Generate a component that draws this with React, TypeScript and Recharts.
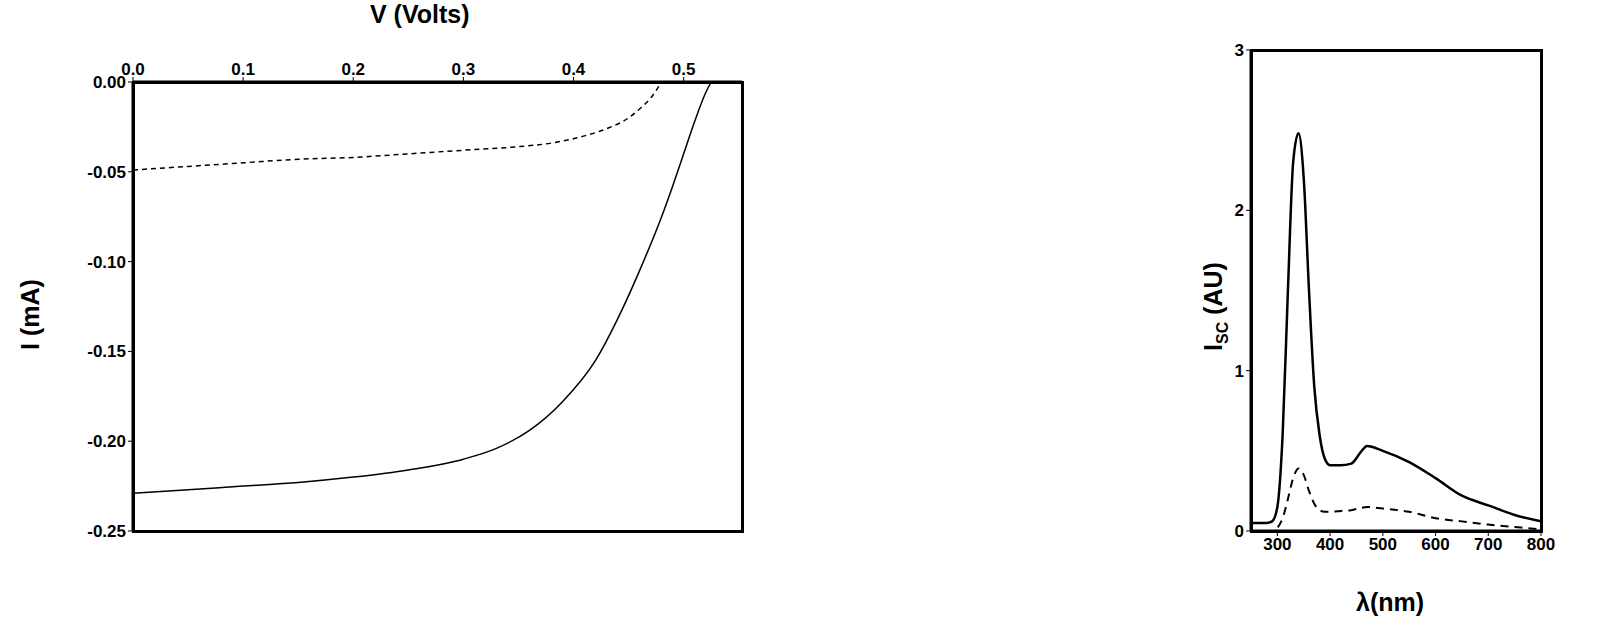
import { LineChart, Line, XAxis, YAxis } from "recharts";

const IV_LIGHT_V = [0, 0.05, 0.1, 0.15, 0.2, 0.25, 0.3, 0.33, 0.36, 0.39, 0.42, 0.44, 0.46, 0.48, 0.49, 0.5, 0.51, 0.52, 0.525];
const IV_LIGHT_I = [-0.229, -0.227, -0.225, -0.223, -0.22, -0.216, -0.21, -0.204, -0.194, -0.178, -0.155, -0.132, -0.105, -0.075, -0.058, -0.04, -0.022, -0.006, 0];
const IV_DARK_V = [0, 0.05, 0.1, 0.15, 0.2, 0.25, 0.3, 0.35, 0.38, 0.41, 0.43, 0.45, 0.46, 0.47, 0.48];
const IV_DARK_I = [-0.049, -0.047, -0.045, -0.043, -0.042, -0.04, -0.038, -0.036, -0.034, -0.03, -0.026, -0.02, -0.015, -0.009, 0];

const WL = [250, 280, 290, 300, 310, 320, 330, 340, 350, 360, 370, 380, 390, 400, 420, 440, 460, 470, 500, 550, 600, 650, 700, 750, 800];
const ISC_SOLID = [0.05, 0.05, 0.06, 0.15, 0.6, 1.5, 2.3, 2.48, 2.2, 1.5, 0.9, 0.6, 0.45, 0.41, 0.41, 0.42, 0.5, 0.53, 0.5, 0.43, 0.33, 0.22, 0.16, 0.1, 0.06];
const ISC_DASH = [0, 0, 0, 0.02, 0.08, 0.2, 0.33, 0.39, 0.35, 0.25, 0.17, 0.13, 0.12, 0.12, 0.125, 0.13, 0.145, 0.15, 0.14, 0.12, 0.08, 0.06, 0.04, 0.025, 0.01];

const V_TICKS = [0, 0.1, 0.2, 0.3, 0.4, 0.5];
const I_TICKS = [0, -0.05, -0.1, -0.15, -0.2, -0.25];
const WL_TICKS = [300, 400, 500, 600, 700, 800];
const ISC_TICKS = [0, 1, 2, 3];

const light = IV_LIGHT_V.map((v, i) => ({ v, i: IV_LIGHT_I[i] }));
const dark = IV_DARK_V.map((v, i) => ({ v, i: IV_DARK_I[i] }));
const solid = WL.map((w, i) => ({ w, y: ISC_SOLID[i] }));
const dash = WL.map((w, i) => ({ w, y: ISC_DASH[i] }));

const FONT = "'Liberation Sans', Arial, sans-serif";
const tick = { fontSize: 17, fontWeight: 700, fill: "#000", fontFamily: FONT };
const axisLine = { stroke: "#000", strokeWidth: 3 };
const lbl: React.CSSProperties = { position: "absolute", fontFamily: FONT, fontWeight: 700, fontSize: 25, color: "#000" };
const frame = (l: number, t: number, w: number, h: number): React.CSSProperties => ({
  position: "absolute", left: l - 1.5, top: t - 1.5, width: w + 3, height: h + 3, boxSizing: "border-box",
  border: "3px solid #000", pointerEvents: "none",
});

export default function App() {
  return (
    <div style={{ position: "fixed", left: 0, top: 0, width: 1600, height: 640, background: "#fff" }}>
      <div style={{ position: "absolute", left: 0, top: 0 }}>
        <LineChart width={760} height={640} margin={{ top: 42, left: 73, right: 18, bottom: 109 }}>
          <XAxis xAxisId="t" type="number" dataKey="v" orientation="top" domain={[0, 0.553]} ticks={V_TICKS}
            tickFormatter={(v: number) => v.toFixed(1)} tick={tick} axisLine={axisLine} tickLine={{ stroke: "#000" }} tickSize={5} height={40} allowDataOverflow />
          <YAxis yAxisId="l" type="number" domain={[-0.25, 0]} ticks={I_TICKS} tickFormatter={(v: number) => v.toFixed(2)}
            tick={tick} axisLine={axisLine} tickLine={{ stroke: "#000" }} tickSize={5} width={60} />
          <Line xAxisId="t" yAxisId="l" data={light} dataKey="i" type="monotone" stroke="#000" strokeWidth={1.5} dot={false} isAnimationActive={false} />
          <Line xAxisId="t" yAxisId="l" data={dark} dataKey="i" type="monotone" stroke="#000" strokeWidth={1.5} strokeDasharray="5 4" dot={false} isAnimationActive={false} />
        </LineChart>
      </div>
      <div style={frame(133, 82, 609, 449)} />
      <div style={{ ...lbl, left: 370, top: 0 }}>V (Volts)</div>
      <div style={{ ...lbl, left: 30, top: 300, transform: "translate(-50%,0) rotate(-90deg)" }}>I (mA)</div>

      <div style={{ position: "absolute", left: 1160, top: 0 }}>
        <LineChart width={400} height={640} margin={{ top: 50, left: 41, right: 19, bottom: 69 }}>
          <XAxis xAxisId="b" type="number" dataKey="w" domain={[250, 800]} ticks={WL_TICKS}
            tick={tick} axisLine={axisLine} tickLine={{ stroke: "#000" }} tickSize={5} height={40} allowDataOverflow />
          <YAxis yAxisId="l" type="number" domain={[0, 3]} ticks={ISC_TICKS}
            tick={tick} axisLine={axisLine} tickLine={{ stroke: "#000" }} tickSize={5} width={50} />
          <Line xAxisId="b" yAxisId="l" data={solid} dataKey="y" type="monotone" stroke="#000" strokeWidth={2.5} dot={false} isAnimationActive={false} />
          <Line xAxisId="b" yAxisId="l" data={dash} dataKey="y" type="monotone" stroke="#000" strokeWidth={2} strokeDasharray="8 6" dot={false} isAnimationActive={false} />
        </LineChart>
      </div>
      <div style={frame(1251, 50, 290, 481)} />
      <div style={{ ...lbl, left: 1356, top: 588 }}>λ(nm)</div>
      <div style={{ ...lbl, left: 1215, top: 290, transform: "translate(-50%,0) rotate(-90deg)", whiteSpace: "nowrap" }}>
        I<sub style={{ fontSize: 16 }}>SC</sub> (AU)
      </div>
    </div>
  );
}
